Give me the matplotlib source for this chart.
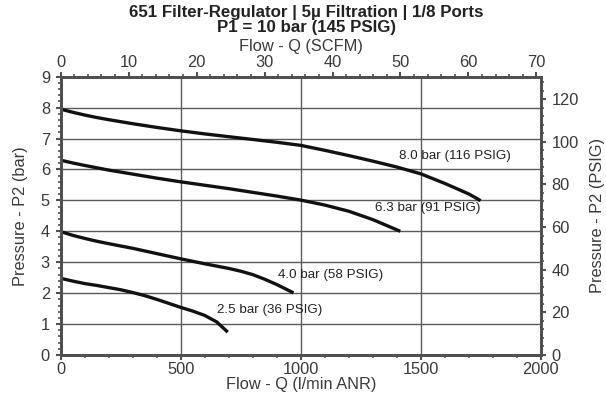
import matplotlib
matplotlib.use("Agg")
import matplotlib.pyplot as plt
from matplotlib.ticker import MultipleLocator

plt.rcParams['font.family'] = ['Liberation Sans', 'DejaVu Sans']

# Data (flow in l/min ANR, pressure in bar)
q_80 = [0, 50, 100, 150, 200, 300, 400, 500, 600, 700, 800, 900, 1000, 1100, 1200, 1300, 1400, 1500, 1600, 1700, 1750]
p_80 = [7.95, 7.85, 7.76, 7.68, 7.61, 7.48, 7.36, 7.25, 7.15, 7.06, 6.97, 6.88, 6.78, 6.62, 6.45, 6.27, 6.08, 5.86, 5.55, 5.21, 4.99]
q_63 = [0, 50, 100, 200, 300, 400, 500, 600, 700, 800, 900, 1000, 1100, 1200, 1300, 1415]
p_63 = [6.30, 6.21, 6.13, 5.98, 5.85, 5.72, 5.60, 5.49, 5.38, 5.26, 5.14, 5.01, 4.85, 4.65, 4.38, 4.00]
q_40 = [0, 50, 100, 150, 200, 300, 400, 500, 600, 700, 750, 800, 850, 900, 970]
p_40 = [3.99, 3.87, 3.77, 3.68, 3.60, 3.45, 3.28, 3.11, 2.95, 2.80, 2.71, 2.60, 2.45, 2.28, 2.01]
q_25 = [0, 50, 100, 150, 200, 250, 300, 350, 400, 450, 500, 550, 600, 650, 696]
p_25 = [2.48, 2.39, 2.31, 2.25, 2.18, 2.11, 2.02, 1.92, 1.80, 1.67, 1.54, 1.42, 1.28, 1.07, 0.74]

labels = ["8.0 bar (116 PSIG)", "6.3 bar (91 PSIG)", "4.0 bar (58 PSIG)", "2.5 bar (36 PSIG)"]
label_q = [1410, 1310, 905, 650]
label_p = [6.45, 4.75, 2.60, 1.45]

title_1 = "651 Filter-Regulator | 5\u00b5 Filtration | 1/8 Ports"
title_2 = "P1 = 10 bar (145 PSIG)"
xlabel = "Flow - Q (l/min ANR)"
xlabel_top = "Flow - Q (SCFM)"
ylabel = "Pressure - P2 (bar)"
ylabel_right = "Pressure - P2 (PSIG)"

LPM_PER_SCFM = 28.3168
PSI_PER_BAR = 14.5038

fig = plt.figure(figsize=(6.06, 3.97), dpi=100)
ax = fig.add_axes([0.1002, 0.1058, 0.792, 0.701])

spine_c = "#505050"
grid_c = "#5a5a5a"
text_c = "#3a3a3a"
fs = 11.8
maj = dict(which='major', length=3.8, width=1.5, color=spine_c, labelsize=fs, labelcolor=text_c)
mnr = dict(which='minor', length=2.4, width=1.2, color=spine_c)

ax.set_xlim(0, 2000)
ax.set_ylim(0, 9)
for v in range(1, 9):
    ax.axhline(v, color=grid_c, lw=1.0, zorder=1)
for v in (500, 1000, 1500):
    ax.axvline(v, color=grid_c, lw=1.0, zorder=1)

for q, p in ((q_80, p_80), (q_63, p_63), (q_40, p_40), (q_25, p_25)):
    ax.plot(q, p, color="#111111", lw=2.4, solid_capstyle='butt', solid_joinstyle='round', zorder=3)

for t, x, y in zip(labels, label_q, label_p):
    ax.text(x, y, t, fontsize=9.6, color="#222222", va='center', ha='left', zorder=4)

ax.xaxis.set_major_locator(MultipleLocator(500))
ax.xaxis.set_minor_locator(MultipleLocator(100))
ax.yaxis.set_major_locator(MultipleLocator(1))
ax.yaxis.set_minor_locator(MultipleLocator(0.2))
ax.tick_params(axis='x', pad=1.5, **maj)
ax.tick_params(axis='y', pad=4, **maj)
ax.tick_params(**mnr)
ax.set_xlabel(xlabel, fontsize=fs, color=text_c, labelpad=0)
ax.set_ylabel(ylabel, fontsize=fs, color=text_c, labelpad=9)

for s in ax.spines.values():
    s.set_color(spine_c)
    s.set_linewidth(2.0)

# Top axis SCFM
axt = ax.twiny()
axt.set_xlim(0, 2000 / LPM_PER_SCFM)
axt.xaxis.set_major_locator(MultipleLocator(10))
axt.xaxis.set_minor_locator(MultipleLocator(2))
axt.tick_params(pad=1.0, **maj)
axt.tick_params(**mnr)
axt.set_xlabel(xlabel_top, fontsize=fs, color=text_c, labelpad=3)

# Right axis PSIG
axr = ax.twinx()
axr.set_ylim(0, 9 * PSI_PER_BAR)
axr.yaxis.set_major_locator(MultipleLocator(20))
axr.yaxis.set_minor_locator(MultipleLocator(4))
axr.tick_params(pad=4, **maj)
axr.tick_params(**mnr)
axr.set_ylabel(ylabel_right, fontsize=fs, color=text_c, labelpad=8)
for a in (axt, axr):
    for s in a.spines.values():
        s.set_color(spine_c)
        s.set_linewidth(2.0)

fig.text(0.505, 1 - 12.5 / 397, title_1, ha='center', va='center', fontsize=12.2,
         fontweight='bold', color="#222222")
fig.text(0.505, 1 - 27.5 / 397, title_2, ha='center', va='center', fontsize=12.2,
         fontweight='bold', color="#222222")

fig.savefig("out.png", dpi=100)
